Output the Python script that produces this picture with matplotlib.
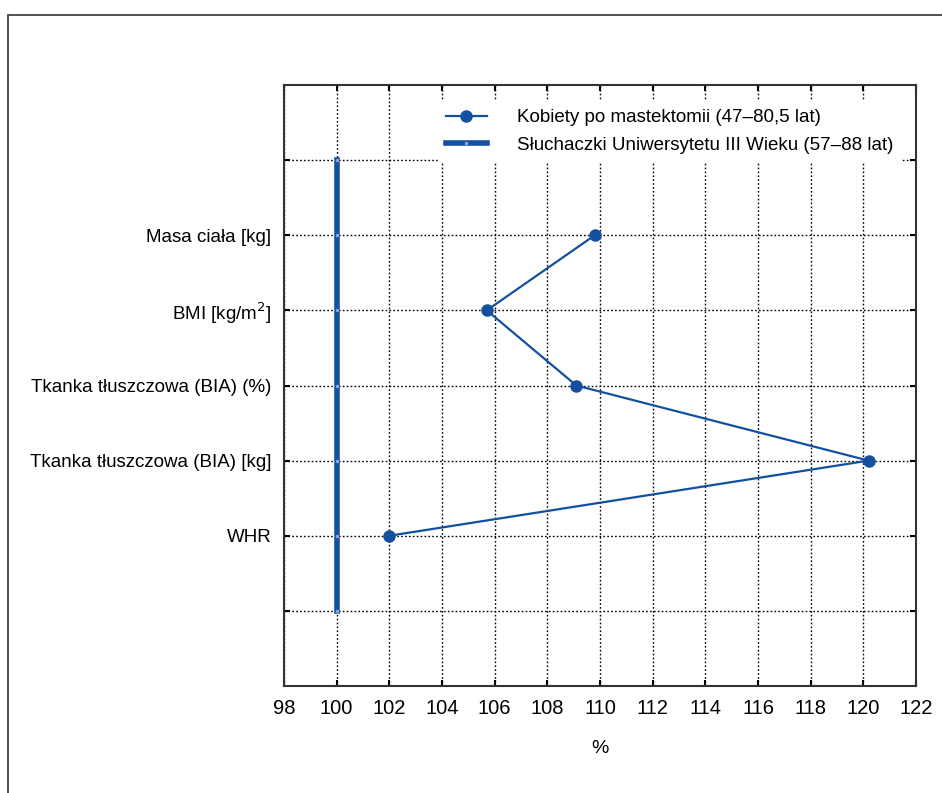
import matplotlib.pyplot as plt
from matplotlib.patches import Rectangle

plt.rcParams['font.family'] = ['Liberation Sans', 'DejaVu Sans']

# Data
categories = ['', 'Masa ciała [kg]', 'BMI [kg/m$^2$]', 'Tkanka tłuszczowa (BIA) (%)',
              'Tkanka tłuszczowa (BIA) [kg]', 'WHR', '']
kobiety_cats = ['Masa ciała [kg]', 'BMI [kg/m$^2$]', 'Tkanka tłuszczowa (BIA) (%)',
                'Tkanka tłuszczowa (BIA) [kg]', 'WHR']
kobiety = [109.8, 105.7, 109.1, 120.2, 102.0]
sluchaczki = [100, 100, 100, 100, 100, 100, 100]
xticks = [98, 100, 102, 104, 106, 108, 110, 112, 114, 116, 118, 120, 122]

blue = '#1450a0'
ypos = list(range(1, len(categories) + 1))
kpos = [categories.index(c) + 1 for c in kobiety_cats]

fig = plt.figure(figsize=(9.42, 7.93), dpi=100)
ax = fig.add_axes([284 / 942, 1 - 686 / 793, 632 / 942, 601 / 793])

# outer frame
fig.patches.append(Rectangle((8 / 942, -0.1), 1.1, 1 - 15 / 793 + 0.1,
                             transform=fig.transFigure, fill=False,
                             edgecolor='#333333', linewidth=1.2))

ax.plot(sluchaczki, ypos, '-', color=blue, linewidth=4, marker='.',
        markersize=3, markerfacecolor='#8fa8d8', markeredgecolor='#8fa8d8',
        label='Słuchaczki Uniwersytetu III Wieku (57–88 lat)', zorder=3)
ax.plot(kobiety, kpos, '-o', color=blue, linewidth=1.6, markersize=8,
        label='Kobiety po mastektomii (47–80,5 lat)', zorder=4)

ax.set_xlim(98, 122)
ax.set_ylim(len(categories) + 1, 0)
ax.set_xticks(xticks)
ax.set_yticks(ypos)
ax.set_yticklabels(categories)
ax.tick_params(direction='in', length=4, width=1.5, labelsize=13.5,
               top=True, right=True, pad=9)
ax.tick_params(axis='x', labelsize=14.5)
ax.grid(True, linestyle=(0, (1.2, 1.6)), color='black', linewidth=1)
ax.set_axisbelow(True)
for s in ax.spines.values():
    s.set_linewidth(1.5)
    s.set_color('#333333')
ax.set_xlabel('%', fontsize=14, labelpad=16)

h, l = ax.get_legend_handles_labels()
leg = ax.legend(h[::-1], l[::-1], loc='upper right', fontsize=13.5, frameon=True,
                fancybox=False, framealpha=1, edgecolor='white',
                handlelength=2.2, handletextpad=1.6, borderaxespad=0.3,
                labelspacing=0.55, bbox_to_anchor=(0.985, 0.982))

fig.savefig('out.png', dpi=100)
